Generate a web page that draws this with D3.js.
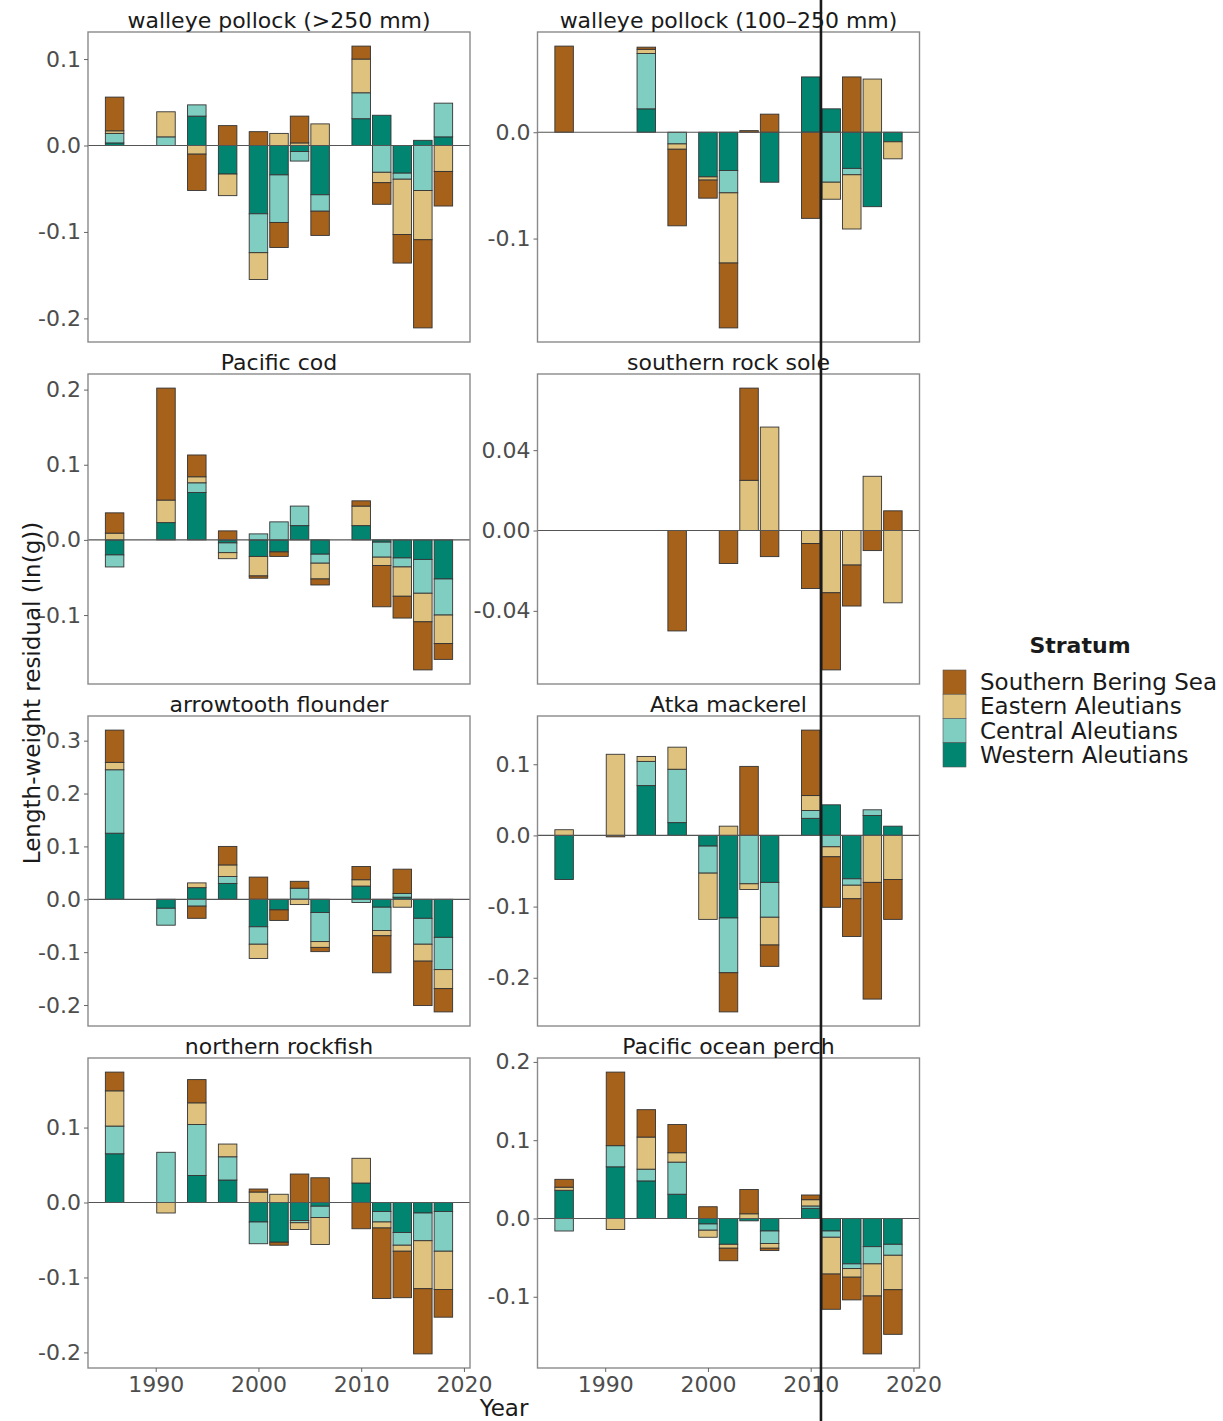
<!DOCTYPE html>
<html><head><meta charset="utf-8">
<script src="https://cdn.jsdelivr.net/npm/d3@7"></script>
<style>body{margin:0;background:#fff} text{font-family:"DejaVu Sans",sans-serif}</style>
</head><body><svg id="c" width="1223" height="1421"></svg>
<script>
// ---------------- DATA ----------------
const years = [1986,1991,1994,1997,2000,2002,2004,2006,2010,2012,2014,2016,2018];
const strata = ["Southern Bering Sea","Eastern Aleutians","Central Aleutians","Western Aleutians"];
const fills = ["#A6611A","#DFC27D","#80CDC1","#018571"];
const titles = ["walleye pollock (>250 mm)","walleye pollock (100\u2013250 mm)","Pacific cod","southern rock sole",
                "arrowtooth flounder","Atka mackerel","northern rockfish","Pacific ocean perch"];
const yTicks = [[-0.2,-0.1,0,0.1],[-0.1,0],[-0.1,0,0.1,0.2],[-0.04,0,0.04],
                [-0.2,-0.1,0,0.1,0.2,0.3],[-0.2,-0.1,0,0.1],[-0.2,-0.1,0,0.1],[-0.1,0,0.1,0.2]];
const xTicks = [1990,2000,2010,2020];
const markerYear = 2011;

// each species: rows = strata (Southern Bering Sea, Eastern, Central, Western), columns = years
const pollockLarge = [
  [0.039,0,-0.042,0.023,0.016,-0.029,0.031,-0.028,0.015,-0.025,-0.033,-0.102,-0.040],
  [0.003,0.029,-0.010,-0.025,-0.031,0.014,0.003,0.025,0.039,-0.012,-0.064,-0.057,-0.030],
  [0.011,0.010,0.013,0,-0.045,-0.055,-0.011,-0.019,0.030,-0.031,-0.007,-0.052,0.039],
  [0.003,0,0.034,-0.033,-0.079,-0.034,-0.007,-0.057,0.031,0.035,-0.032,0.006,0.010]];
const pollockSmall = [
  [0.081,0,0.002,-0.072,-0.017,-0.061,0.0015,0.017,-0.081,0,0.052,0,0],
  [0,0,0.004,-0.005,-0.003,-0.066,0,0,0,-0.016,-0.051,0.050,-0.016],
  [0,0,0.052,-0.011,0,-0.021,0,0,0,-0.047,-0.006,0,0],
  [0,0,0.022,0,-0.042,-0.036,0,-0.047,0.052,0.022,-0.034,-0.070,-0.009]];
const cod = [
  [0.027,0.149,0.029,0.012,-0.003,-0.006,0,-0.008,0.007,-0.055,-0.029,-0.064,-0.021],
  [0.009,0.030,0.008,-0.008,-0.026,0,0,-0.021,0.026,-0.011,-0.039,-0.038,-0.038],
  [-0.016,0,0.013,-0.013,0.008,0.024,0.026,-0.012,0,-0.020,-0.012,-0.045,-0.048],
  [-0.020,0.023,0.063,-0.004,-0.022,-0.016,0.019,-0.019,0.019,-0.003,-0.024,-0.026,-0.052]];
const rockSole = [
  [0,0,0,-0.050,0,-0.0164,0.0459,-0.013,-0.0224,-0.0384,-0.0204,-0.010,0.0098],
  [0,0,0,0,0,0,0.025,0.0515,-0.0065,-0.031,-0.0172,0.027,-0.036],
  [0,0,0,0,0,0,0,0,0,0,0,0,0],
  [0,0,0,0,0,0,0,0,0,0,0,0,0]];
const arrowtooth = [
  [0.061,0,-0.023,0.035,0.042,-0.020,0.013,-0.008,0.025,-0.070,0.046,-0.084,-0.044],
  [0.014,0,0.009,0.022,-0.027,0,-0.010,-0.011,0.012,-0.010,-0.015,-0.032,-0.036],
  [0.120,-0.032,-0.013,0.013,-0.033,0,0.021,-0.055,-0.006,-0.044,0.007,-0.049,-0.061],
  [0.125,-0.017,0.022,0.030,-0.052,-0.020,0,-0.025,0.025,-0.015,0.004,-0.036,-0.072]];
const atka = [
  [0,-0.002,0,0,0,-0.055,0.097,-0.030,0.092,-0.071,-0.053,-0.164,-0.056],
  [0.008,0.114,0.007,0.031,-0.065,0.013,-0.008,-0.039,0.021,-0.014,-0.019,-0.066,-0.062],
  [0,0,0.034,0.075,-0.038,-0.077,-0.068,-0.049,0.011,-0.016,-0.009,0.008,0],
  [-0.062,0,0.070,0.018,-0.015,-0.116,0,-0.066,0.024,0.043,-0.061,0.028,0.013]];
const northernRockfish = [
  [0.025,0,0.031,0,0.004,-0.004,0.038,0.033,-0.035,-0.094,-0.062,-0.087,-0.037],
  [0.047,-0.014,0.029,0.017,0.014,0.011,-0.009,-0.036,0.033,-0.008,-0.008,-0.064,-0.051],
  [0.037,0.067,0.068,0.031,-0.029,0,-0.003,-0.015,0,-0.014,-0.017,-0.037,-0.053],
  [0.065,0,0.036,0.030,-0.026,-0.053,-0.024,-0.005,0.026,-0.012,-0.040,-0.014,-0.012]];
const oceanPerch = [
  [0.010,0.094,0.035,0.036,0.015,-0.016,0.031,-0.003,0.006,-0.045,-0.029,-0.074,-0.057],
  [0.004,-0.014,0.041,0.012,-0.009,-0.005,0.006,-0.006,0.008,-0.047,-0.011,-0.041,-0.044],
  [-0.016,0.027,0.015,0.041,-0.008,0,0,-0.016,0.003,-0.008,-0.006,-0.022,-0.014],
  [0.036,0.066,0.048,0.031,-0.007,-0.033,-0.003,-0.016,0.013,-0.016,-0.058,-0.036,-0.033]];
const panelData = [pollockLarge,pollockSmall,cod,rockSole,arrowtooth,atka,northernRockfish,oceanPerch];

// ---------------- LAYOUT ----------------
const svg = d3.select("#c");
const colX = [88, 537.5], rowY = [32, 374, 716, 1058];
const pw = 382, ph = 310;
const barW = 1.8;
const xlo = d3.min(years) - barW/2, xhi = d3.max(years) + barW/2, xr = xhi - xlo;
const xDomain = [xlo - 0.05*xr, xhi + 0.05*xr];
const FS = 22;
const fmt = v => { const s = Math.abs(v) < 0.05 && Math.abs(v) > 0 ? v.toFixed(2) : v.toFixed(1); return s; };

panelData.forEach((data, pi) => {
  const col = pi % 2, row = Math.floor(pi / 2);
  const px = colX[col], py = rowY[row];
  const g = svg.append("g").attr("transform", `translate(${px},${py})`);
  const x = d3.scaleLinear().domain(xDomain).range([0, pw]);

  // stacking: outward from zero Western, Central, Eastern, Southern
  const rects = [];
  let ymin = 0, ymax = 0;
  years.forEach((yr, yi) => {
    let pos = 0, neg = 0;
    for (let si = 3; si >= 0; si--) {
      const v = data[si][yi];
      if (!v) continue;
      let a, b;
      if (v > 0) { a = pos; b = pos + v; pos = b; } else { a = neg; b = neg + v; neg = b; }
      rects.push({yr, si, a, b});
    }
    ymax = Math.max(ymax, pos); ymin = Math.min(ymin, neg);
  });
  const yrng = ymax - ymin;
  const y = d3.scaleLinear().domain([ymin - 0.05*yrng, ymax + 0.05*yrng]).range([ph, 0]);

  g.append("rect").attr("width", pw).attr("height", ph).attr("fill", "#fff");
  g.selectAll("rect.bar").data(rects).join("rect").attr("class","bar")
    .attr("x", d => x(d.yr - barW/2)).attr("width", d => x(d.yr + barW/2) - x(d.yr - barW/2))
    .attr("y", d => y(Math.max(d.a, d.b))).attr("height", d => Math.abs(y(d.a) - y(d.b)))
    .attr("fill", d => fills[d.si]).attr("stroke", "#333").attr("stroke-width", 0.9);

  g.append("line").attr("x1", 0).attr("x2", pw).attr("y1", y(0)).attr("y2", y(0))
    .attr("stroke", "#555").attr("stroke-width", 1.2);
  g.append("rect").attr("width", pw).attr("height", ph).attr("fill", "none")
    .attr("stroke", "#8a8a8a").attr("stroke-width", 1.4);

  // y axis
  const ya = d3.axisLeft(y).tickValues(yTicks[pi]).tickSize(4).tickPadding(3)
    .tickFormat(v => pi === 3 ? v.toFixed(2) : v.toFixed(1));
  const yg = g.append("g").call(ya);
  yg.select(".domain").remove();
  yg.selectAll(".tick line").attr("stroke", "#666");
  yg.selectAll(".tick text").attr("fill", "#4d4d4d").style("font-size", FS + "px")
    .style("font-family", "DejaVu Sans");

  // x axis on bottom row
  if (row === 3) {
    const xa = d3.axisBottom(x).tickValues(xTicks).tickSize(4).tickPadding(4).tickFormat(d3.format("d"));
    const xg = g.append("g").attr("transform", `translate(0,${ph})`).call(xa);
    xg.select(".domain").remove();
    xg.selectAll(".tick line").attr("stroke", "#666");
    xg.selectAll(".tick text").attr("fill", "#4d4d4d").style("font-size", FS + "px")
      .style("font-family", "DejaVu Sans");
  }

  // strip title
  g.append("text").attr("x", pw/2).attr("y", -4).attr("text-anchor", "middle")
    .attr("fill", "#1a1a1a").style("font-size", FS + "px").text(titles[pi]);

  if (col === 1 && row === 0) {
    // marker line across whole figure
    svg.append("line").attr("class","marker")
      .attr("x1", px + x(markerYear)).attr("x2", px + x(markerYear))
      .attr("y1", 0).attr("y2", 1421).attr("stroke", "#1a1a1a").attr("stroke-width", 2.6);
  }
});
// bring marker to front
svg.select(".marker").raise();

// axis titles
svg.append("text").attr("x", 504).attr("y", 1416).attr("text-anchor", "middle")
  .attr("fill", "#1a1a1a").style("font-size", "23px").text("Year");
svg.append("text").attr("transform", "translate(40,693) rotate(-90)").attr("text-anchor", "middle")
  .attr("fill", "#1a1a1a").style("font-size", "23px").text("Length-weight residual (ln(g))");

// legend
const lg = svg.append("g");
lg.append("text").attr("x", 1080).attr("y", 653).attr("text-anchor", "middle")
  .attr("fill", "#1a1a1a").style("font-size", "22px").style("font-weight", "bold").text("Stratum");
const keyH = 24.25;
strata.forEach((s, i) => {
  lg.append("rect").attr("x", 943).attr("y", 670 + i*keyH).attr("width", 23).attr("height", keyH)
    .attr("fill", fills[i]).attr("stroke", "#555").attr("stroke-width", 0.6);
  lg.append("text").attr("x", 980).attr("y", 670 + i*keyH + keyH/2 + 8)
    .attr("fill", "#1a1a1a").style("font-size", "23px").text(s);
});
</script></body></html>
